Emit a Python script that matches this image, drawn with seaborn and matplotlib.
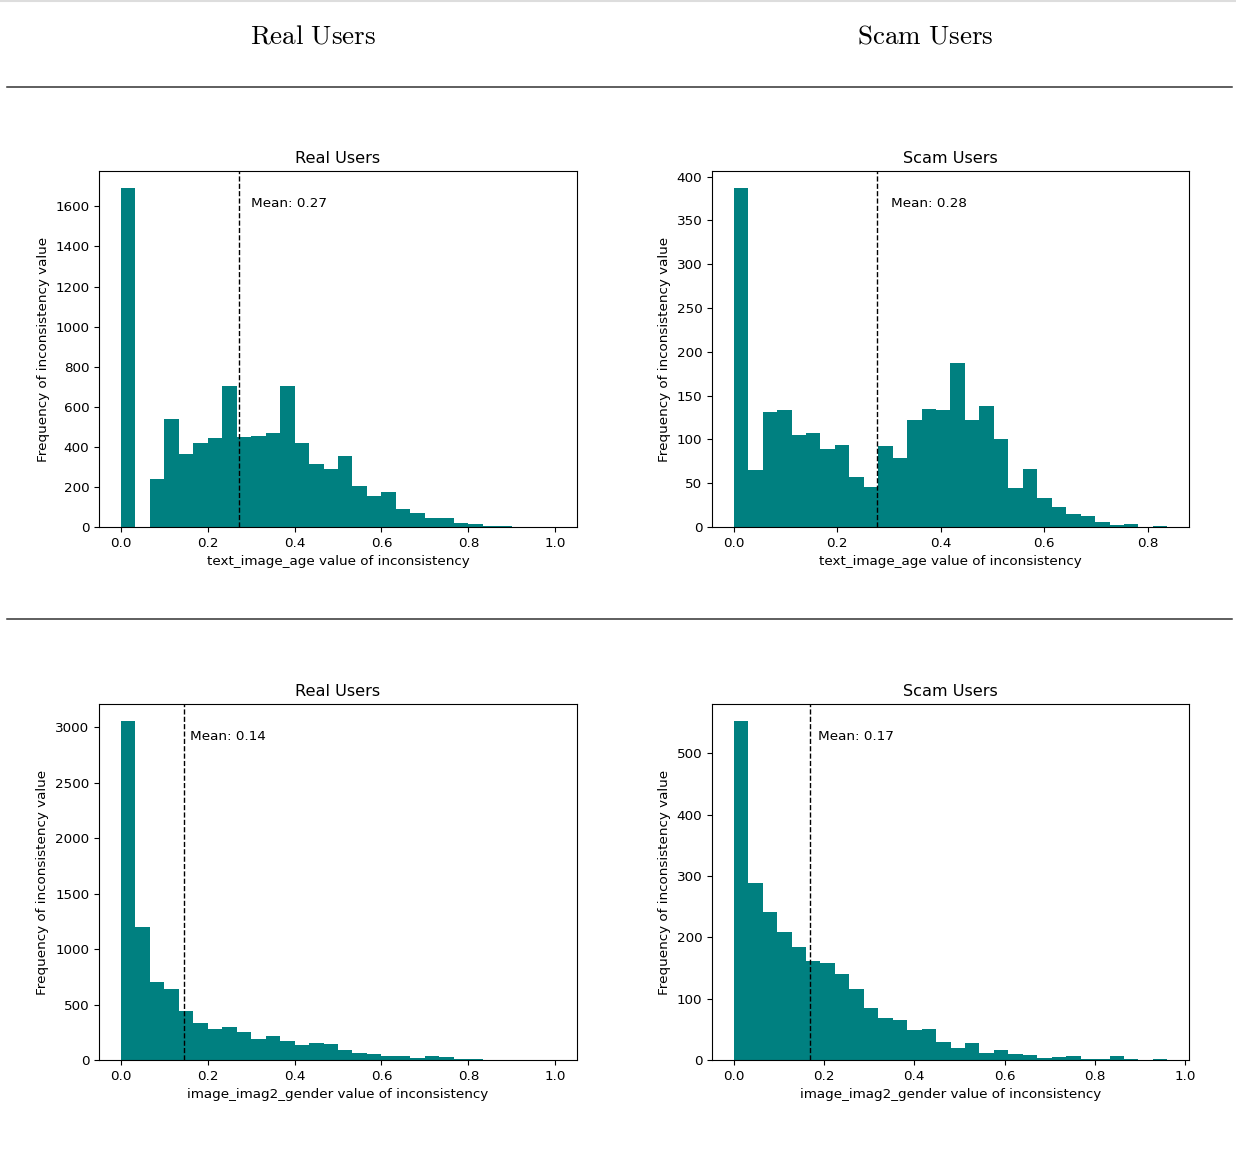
import numpy as np
import pandas as pd
import matplotlib
matplotlib.use("Agg")
import matplotlib.pyplot as plt
import seaborn as sns

# counts per bin (30 equal bins from 0 to the max value of each feature)
real_age_counts = [1692, 0, 242, 540, 363, 417, 442, 703, 448, 452, 468, 702, 420, 315, 290,
                   355, 207, 155, 177, 88, 72, 47, 43, 18, 13, 5, 5, 2, 1, 1]
scam_age_counts = [387, 65, 131, 133, 105, 107, 89, 94, 57, 46, 93, 79, 122, 135, 133,
                   187, 122, 138, 100, 44, 66, 33, 23, 15, 12, 6, 2, 3, 0, 1]
real_gender_counts = [3057, 1196, 699, 642, 440, 337, 283, 295, 253, 187, 214, 175, 136, 157, 142,
                      93, 63, 54, 39, 39, 18, 33, 27, 12, 12, 0, 0, 0, 0, 1]
scam_gender_counts = [553, 289, 242, 209, 184, 161, 159, 141, 115, 85, 68, 65, 49, 51, 30,
                      20, 27, 12, 16, 9, 8, 4, 5, 7, 1, 2, 7, 1, 0, 1]

max_values = [1.0, 0.838, 1.0, 0.96]
means = [0.2717, 0.276, 0.1449, 0.1700]
features = ["text_image_age", "text_image_age", "image_imag2_gender", "image_imag2_gender"]
groups = ["Real Users", "Scam Users", "Real Users", "Scam Users"]
all_counts = [real_age_counts, scam_age_counts, real_gender_counts, scam_gender_counts]

W, H = 1236, 1151
plt.rcParams["mathtext.fontset"] = "cm"
fig = plt.figure(figsize=(W / 100, H / 100), dpi=100)


def rect(l, t, r, b):
    return [l / W, 1 - b / H, (r - l) / W, (b - t) / H]


boxes = [rect(99, 171, 577, 527), rect(712, 171, 1189, 527),
         rect(99, 704, 577, 1060), rect(712, 704, 1189, 1060)]

for box, counts, mx, m, feat, grp in zip(boxes, all_counts, max_values, means, features, groups):
    ax = fig.add_axes(box)
    n = len(counts)
    width = mx / n
    df = pd.DataFrame({"value": (np.arange(n) + 0.5) * width, "count": counts})
    sns.histplot(data=df, x="value", weights="count", bins=n, binrange=(0, mx), ax=ax,
                 color="teal", alpha=1, linewidth=0)
    ax.set_xlim(-0.05 * mx, 1.05 * mx)
    ax.set_ylim(0, max(counts) * 1.05)
    ax.axvline(m, color="k", linestyle="--", linewidth=1)
    ax.text(m * 1.1, ax.get_ylim()[1] * 0.9, f"Mean: {m:.2f}", fontsize=9.7)
    ax.set_title(grp, fontsize=11.6)
    ax.set_xlabel(f"{feat} value of inconsistency", fontsize=9.7)
    ax.set_ylabel("Frequency of inconsistency value", fontsize=9.7)
    ax.tick_params(labelsize=9.7)

# table-like header and rules
fig.text(313 / W, 1 - 37 / H, r"$\mathrm{Real\ Users}$", fontsize=19.5, ha="center", va="center")
fig.text(925 / W, 1 - 37 / H, r"$\mathrm{Scam\ Users}$", fontsize=19.5, ha="center", va="center")
fig.add_artist(plt.Line2D([0, 1], [1 - 0.5 / H, 1 - 0.5 / H], color="#dddddd", linewidth=1.5))
for yy in [87, 619]:
    fig.add_artist(plt.Line2D([7 / W, 1232 / W], [1 - yy / H, 1 - yy / H], color="#333333", linewidth=1.1))

fig.savefig("out.png", dpi=100)
